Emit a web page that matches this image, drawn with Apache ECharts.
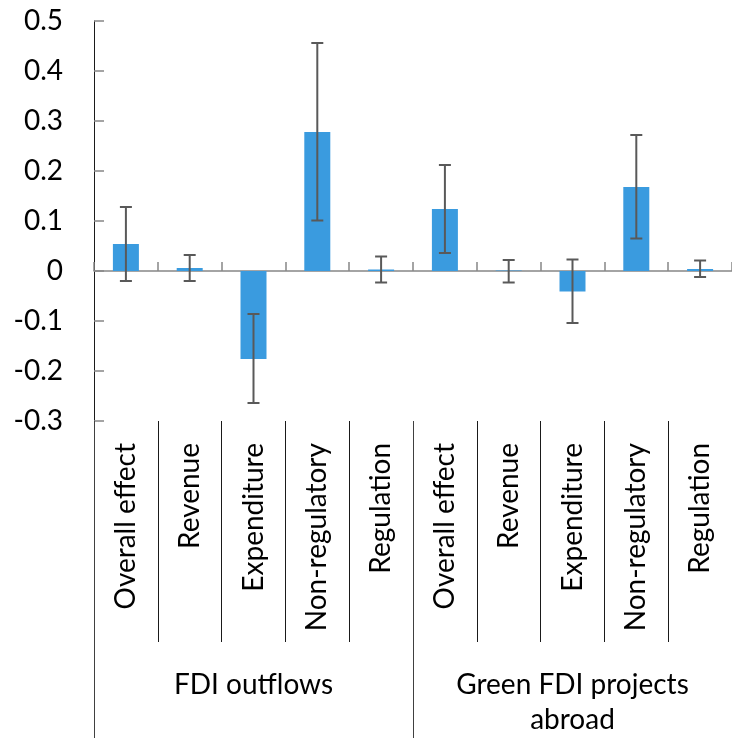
<!DOCTYPE html>
<html>
<head>
<meta charset="utf-8">
<script src="https://cdn.jsdelivr.net/npm/echarts@6/dist/echarts.min.js"></script>
<style>
html,body{margin:0;padding:0;background:#fff;}
#chart{width:732px;height:738px;}
</style>
</head>
<body>
<div id="chart"></div>
<script>
const categories = ['Overall effect','Revenue','Expenditure','Non-regulatory','Regulation',
                    'Overall effect','Revenue','Expenditure','Non-regulatory','Regulation'];
const groups = ['FDI outflows', 'Green FDI projects\nabroad'];
const values = [0.054, 0.006, -0.176, 0.278, 0.003, 0.124, 0.001, -0.041, 0.168, 0.004];
const errLow = [-0.020, -0.020, -0.264, 0.101, -0.023, 0.036, -0.023, -0.104, 0.065, -0.012];
const errHigh = [0.128, 0.032, -0.086, 0.456, 0.029, 0.212, 0.022, 0.023, 0.272, 0.021];
const yTicks = { min: -0.3, max: 0.5, interval: 0.1 };

const FONT = 'Lato';
const FS = 28;
const chart = echarts.init(document.getElementById('chart'), null, {renderer: 'canvas'});

const errData = categories.map((c, i) => [i, errLow[i], errHigh[i]]);

chart.setOption({
  animation: false,
  backgroundColor: '#ffffff',
  grid: { left: 94, top: 21, width: 641, height: 400, containLabel: false },
  xAxis: [
    {
      type: 'category', data: categories, position: 'bottom',
      axisLine: { onZero: true, lineStyle: { color: '#868686', width: 1.5 } },
      axisTick: { show: true, inside: true, length: 9, interval: 0, lineStyle: { color: '#868686', width: 1.5 } },
      axisLabel: { show: false },
      splitLine: { show: false }
    },
    {
      type: 'category', data: categories, position: 'bottom', offset: 0,
      axisLine: { show: false, onZero: false },
      axisTick: { show: true, length: 221, interval: 0, lineStyle: { color: '#1a1a1a', width: 1 } },
      axisLabel: { show: true, interval: 0, rotate: 90, margin: 22,
        fontFamily: FONT, fontSize: FS, color: '#000' },
      splitLine: { show: false }
    },
    {
      type: 'category', data: groups, position: 'bottom', offset: 0,
      axisLine: { show: false, onZero: false },
      axisTick: { show: true, length: 330, interval: 0, lineStyle: { color: '#404040', width: 1 } },
      axisLabel: { show: true, interval: 0, margin: 246, lineHeight: 35,
        fontFamily: FONT, fontSize: FS, color: '#000' },
      splitLine: { show: false }
    }
  ],
  yAxis: {
    type: 'value', min: yTicks.min, max: yTicks.max, interval: yTicks.interval,
    axisLine: { show: true, lineStyle: { color: '#1a1a1a', width: 1 } },
    axisTick: { show: true, inside: true, length: 10, lineStyle: { color: '#868686', width: 1.5 } },
    axisLabel: { margin: 31, fontFamily: FONT, fontSize: FS, color: '#000',
      formatter: v => { const r = Math.round(v * 10) / 10; return r === 0 ? '0' : r.toFixed(1); } },
    splitLine: { show: false }
  },
  series: [
    {
      type: 'bar', xAxisIndex: 0, data: values, barWidth: 26,
      itemStyle: { color: '#3A9BDF' }
    },
    {
      type: 'custom', xAxisIndex: 0, data: errData, z: 5,
      renderItem: function (params, api) {
        const x = api.value(0);
        const lo = api.coord([x, api.value(1)]);
        const hi = api.coord([x, api.value(2)]);
        const hw = 6;
        const style = { stroke: '#595959', lineWidth: 2 };
        return {
          type: 'group',
          children: [
            { type: 'line', shape: { x1: lo[0], y1: lo[1], x2: hi[0], y2: hi[1] }, style },
            { type: 'line', shape: { x1: lo[0] - hw, y1: lo[1], x2: lo[0] + hw, y2: lo[1] }, style },
            { type: 'line', shape: { x1: hi[0] - hw, y1: hi[1], x2: hi[0] + hw, y2: hi[1] }, style }
          ]
        };
      }
    }
  ]
});
</script>
</body>
</html>
